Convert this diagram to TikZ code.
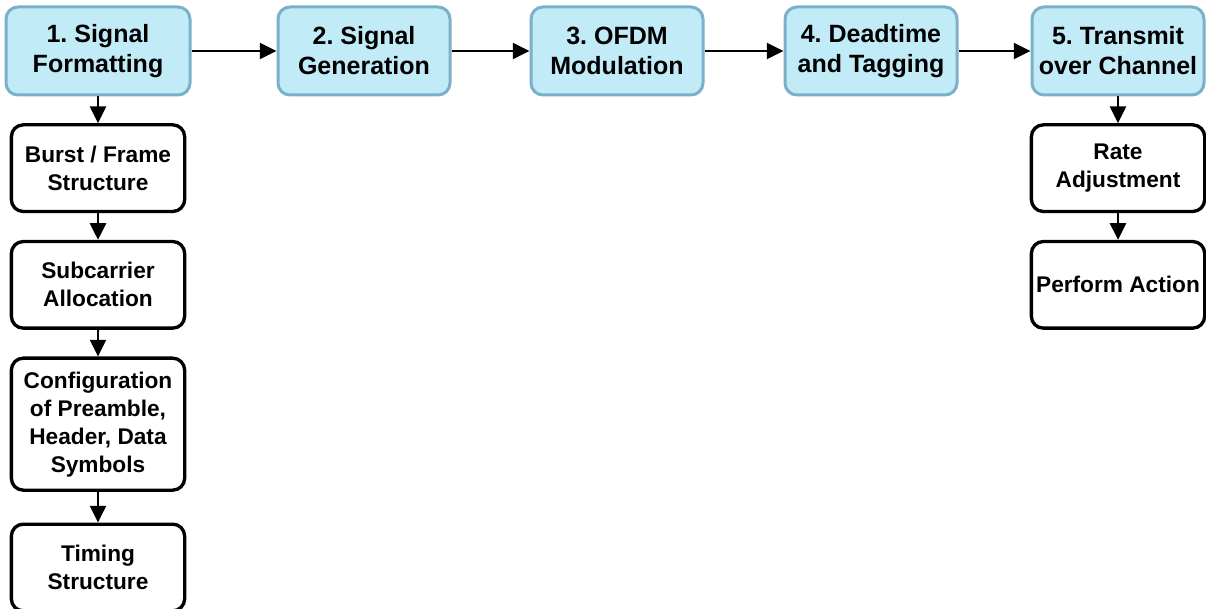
\documentclass[tikz,border=0pt]{standalone}
\usepackage{fontspec}
\setmainfont{Liberation Sans}
\frenchspacing
\usetikzlibrary{positioning,arrows.meta}
\definecolor{stagefill}{HTML}{C2EBF8}
\definecolor{stageline}{HTML}{7AB0C8}

\begin{document}
\begin{tikzpicture}[x=0.75pt,y=-0.75pt,->,>={Triangle[length=12.5pt,width=12pt]},line width=1.75pt,
        stage box/.style={rectangle, draw=stageline, fill=stagefill, line width=2.25pt, rounded corners=9pt, minimum width=129pt, minimum height=66pt, align=center, font=\fontsize{18.75}{22.5}\selectfont\bfseries},
        sub box/.style={rectangle, draw=black, fill=white, line width=2.5pt, rounded corners=9pt, minimum width=130pt, minimum height=65pt, align=center, inner sep=1pt, font=\fontsize{17}{21}\selectfont\bfseries}]

            \useasboundingbox (0,0) rectangle (1206,609);

            % Stages

            \node [stage box, minimum width=138pt] (s1) at (98,51) {1. Signal\\Formatting};
            \node [stage box] (s2) at (364,51) {2. Signal\\Generation};
            \node [stage box] (s3) at (617,51) {3. OFDM\\Modulation};
            \node [stage box] (s4) at (871,51) {4. Deadtime\\and Tagging};
            \node [stage box] (s5) at (1118,51) {5. Transmit\\over Channel};

            % Formatting steps

            \foreach \b/\h/\g/\txt [
                evaluate = \b as \bprev using {int(\b-1)},
            ] in {1/65/20/{Burst / Frame\\Structure}, 2/65/20/{Subcarrier\\Allocation}, 3/99/20/{Configuration\\of Preamble,\\Header, Data\\Symbols}, 4/65/23/{Timing\\Structure}} {
                \ifnum\b=1
                  \node [sub box, minimum height=\h pt] (f\b) [below=\g pt of s1] {\txt};
                \else
                  \node [sub box, minimum height=\h pt] (f\b) [below=\g pt of f\bprev] {\txt};
                \fi
            }

            % Channel steps

            \node [sub box] (c1) [below=20pt of s5] {Rate\\Adjustment};
            \node [sub box] (c2) [below=20pt of c1] {Perform Action};

            \path
                  (s1) edge (s2)
                  (s2) edge (s3)
                  (s3) edge (s4)
                  (s4) edge (s5)
                  (s1) edge (f1)
                  (f1) edge (f2)
                  (f2) edge (f3)
                  (f3) edge (f4)
                  (s5) edge (c1)
                  (c1) edge (c2)
                ;
        \end{tikzpicture}
\end{document}
